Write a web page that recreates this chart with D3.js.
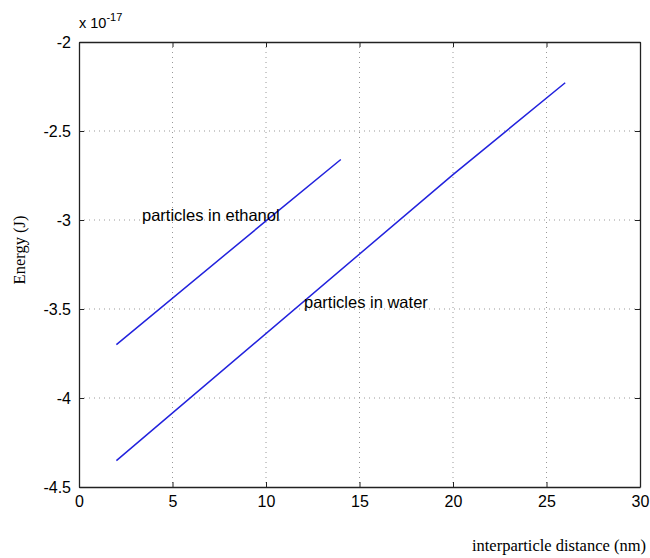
<!DOCTYPE html>
<html>
<head>
<meta charset="utf-8">
<script src="https://cdn.jsdelivr.net/npm/d3@7"></script>
<style>
  body { margin: 0; background: #fff; }
  svg { display: block; }
</style>
</head>
<body>
<svg id="chart"></svg>
<script>
// Values (energy in units of 1e-17 J)
const xTicks = [0, 5, 10, 15, 20, 25, 30];
const yTicks = [-2, -2.5, -3, -3.5, -4, -4.5];
const ethanolX = [2, 10, 14];
const ethanolY = [-3.70, -3.005, -2.66];
const waterX = [2, 20, 26];
const waterY = [-4.352, -2.745, -2.229];

const width = 650, height = 558;
const margin = { top: 42, right: 10, bottom: 71, left: 79 };
const innerW = 640 - margin.left;
const innerH = 487 - margin.top;

const svg = d3.select('#chart')
    .attr('width', width)
    .attr('height', height);

const x = d3.scaleLinear().domain([0, 30]).range([0, innerW]);
const y = d3.scaleLinear().domain([-4.5, -2]).range([innerH, 0]);

const g = svg.append('g')
    .attr('transform', `translate(${margin.left},${margin.top})`);

// dotted grid lines
g.append('g')
    .selectAll('line')
    .data(xTicks.slice(1, -1))
    .enter().append('line')
    .attr('x1', d => x(d)).attr('x2', d => x(d))
    .attr('y1', 0).attr('y2', innerH)
    .attr('stroke', '#999')
    .attr('stroke-width', 1)
    .attr('stroke-dasharray', '1,4');

g.append('g')
    .selectAll('line')
    .data(yTicks.slice(1, -1))
    .enter().append('line')
    .attr('y1', d => y(d)).attr('y2', d => y(d))
    .attr('x1', 0).attr('x2', innerW)
    .attr('stroke', '#999')
    .attr('stroke-width', 1)
    .attr('stroke-dasharray', '1,4');

// axes with inward ticks, on all four sides
const tickFont = '16px "Liberation Sans", Arial, sans-serif';
const plain = d => String(d);   // keeps the ascii hyphen like matlab

const xAxis = g.append('g')
    .attr('transform', `translate(0,${innerH})`)
    .call(d3.axisBottom(x).tickValues(xTicks).tickSizeInner(-5).tickSizeOuter(0).tickPadding(9).tickFormat(plain));
xAxis.selectAll('text').style('font', tickFont).attr('fill', '#000');

const yAxis = g.append('g')
    .call(d3.axisLeft(y).tickValues(yTicks).tickSizeInner(-5).tickSizeOuter(0).tickPadding(8).tickFormat(plain));
yAxis.selectAll('text').style('font', tickFont).attr('fill', '#000');

g.append('g')
    .call(d3.axisTop(x).tickValues(xTicks).tickSizeInner(-5).tickSizeOuter(0).tickFormat(''));
g.append('g')
    .attr('transform', `translate(${innerW},0)`)
    .call(d3.axisRight(y).tickValues(yTicks).tickSizeInner(-5).tickSizeOuter(0).tickFormat(''));

g.selectAll('.domain').attr('stroke', '#222').attr('stroke-width', 1.3);
g.selectAll('.tick line').attr('stroke', '#222');

// the two curves
const line = d3.line()
    .x(d => x(d[0]))
    .y(d => y(d[1]));

g.append('path')
    .datum(d3.zip(ethanolX, ethanolY))
    .attr('d', line)
    .attr('fill', 'none')
    .attr('stroke', '#2222dd')
    .attr('stroke-width', 1.5);

g.append('path')
    .datum(d3.zip(waterX, waterY))
    .attr('d', line)
    .attr('fill', 'none')
    .attr('stroke', '#2222dd')
    .attr('stroke-width', 1.5);

// in-plot labels
const labelFont = '16.5px "Liberation Sans", Arial, sans-serif';
svg.append('text')
    .attr('x', 142).attr('y', 221)
    .style('font', labelFont)
    .text('particles in ethanol');

svg.append('text')
    .attr('x', 304).attr('y', 308)
    .style('font', labelFont)
    .text('particles in water');

// exponent multiplier
const mult = svg.append('text')
    .attr('x', 79).attr('y', 28)
    .style('font', '14.5px "Liberation Sans", Arial, sans-serif');
mult.append('tspan').text('x 10');
mult.append('tspan')
    .attr('dy', -7)
    .style('font-size', '11px')
    .text('-17');

// axis titles (serif)
const titleFont = '16.5px "Liberation Serif", "Times New Roman", serif';
svg.append('text')
    .attr('transform', 'translate(25,250) rotate(-90)')
    .attr('text-anchor', 'middle')
    .style('font', titleFont)
    .text('Energy (J)');

svg.append('text')
    .attr('x', 646).attr('y', 551)
    .attr('text-anchor', 'end')
    .style('font', titleFont)
    .text('interparticle distance (nm)');
</script>
</body>
</html>
